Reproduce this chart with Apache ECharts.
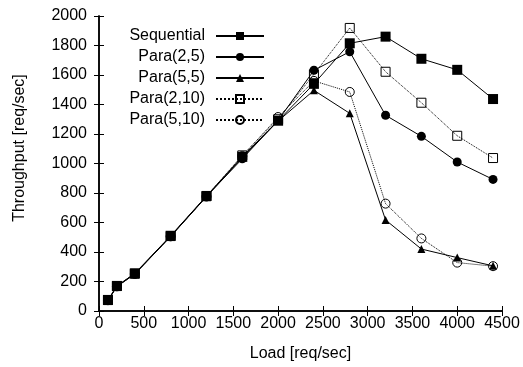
<!DOCTYPE html>
<html>
<head>
<meta charset="utf-8">
<script src="https://cdn.jsdelivr.net/npm/echarts@6/dist/echarts.min.js"></script>
<style>
  html, body { margin: 0; padding: 0; background: #fff; }
  #chart { width: 523px; height: 367px; }
</style>
</head>
<body>
<div id="chart"></div>
<script>
const loads = [100, 200, 400, 800, 1200, 1600, 2000, 2400, 2800, 3200, 3600, 4000, 4400];

const sequential = [75, 170, 255, 510, 780, 1045, 1290, 1540, 1815, 1860, 1710, 1635, 1437];
const para2_5 = [72, 168, 252, 507, 777, 1032, 1292, 1632, 1758, 1327, 1184, 1010, 892];
const para5_5 = [70, 166, 250, 505, 775, 1040, 1288, 1496, 1340, 617, 420, 362, 306];
const para2_10 = [74, 169, 253, 508, 778, 1055, 1300, 1605, 1919, 1622, 1412, 1188, 1037];
const para5_10 = [73, 167, 251, 506, 776, 1050, 1315, 1560, 1485, 728, 492, 328, 304];

const seriesNames = ['Sequential', 'Para(2,5)', 'Para(5,5)', 'Para(2,10)', 'Para(5,10)'];

const font = 'Liberation Sans, Arial, sans-serif';

function pairs(values) {
  return loads.map((x, i) => [x, values[i]]);
}

function makeSeries(name, values, symbol, dotted, filled, size) {
  return {
    name,
    type: 'line',
    data: pairs(values),
    symbol,
    symbolSize: size,
    showAllSymbol: true,
    lineStyle: { color: '#000', width: 1, type: dotted ? 'dotted' : 'solid' },
    itemStyle: filled
      ? { color: '#000' }
      : { color: 'rgba(255,255,255,0)', borderColor: '#000', borderWidth: 1 },
    emphasis: { disabled: true },
  };
}

const chart = echarts.init(document.getElementById('chart'));

const axisLine = { show: true, lineStyle: { color: '#000', width: 1.5 } };
const axisTick = { show: true, inside: true, length: 5, lineStyle: { color: '#000', width: 1 } };
const plainNumber = v => String(v);

chart.setOption({
  animation: false,
  backgroundColor: '#fff',
  textStyle: { fontFamily: font },
  grid: { left: 99, right: 21, top: 16, bottom: 56, containLabel: false },
  legend: {
    orient: 'vertical',
    align: 'right',
    right: 253,
    top: 23,
    itemWidth: 48,
    itemHeight: 10,
    itemGap: 5,
    formatter: name => '{t|' + name + '}',
    textStyle: {
      fontFamily: font, fontSize: 16, color: '#000',
      rich: { t: { width: 84, align: 'right', fontSize: 16, fontFamily: font, color: '#000', padding: [0, 6, 0, 0] } },
    },
    data: seriesNames,
  },
  xAxis: [
    {
      type: 'value', min: 0, max: 4500, interval: 500,
      axisLine, axisTick, splitLine: { show: false },
      axisLabel: { color: '#000', fontSize: 16, fontFamily: font, margin: 5, formatter: plainNumber },
      name: 'Load [req/sec]', nameLocation: 'middle', nameGap: 35,
      nameTextStyle: { color: '#000', fontSize: 16, fontFamily: font },
    },
    {
      type: 'value', min: 0, max: 4500, interval: 500, position: 'top',
      axisLine, axisTick, splitLine: { show: false }, axisLabel: { show: false },
    },
  ],
  yAxis: [
    {
      type: 'value', min: 0, max: 2000, interval: 200,
      axisLine, axisTick, splitLine: { show: false },
      axisLabel: { color: '#000', fontSize: 16, fontFamily: font, margin: 12, formatter: plainNumber },
    },
    {
      type: 'value', min: 0, max: 2000, interval: 200, position: 'right',
      axisLine, axisTick, splitLine: { show: false }, axisLabel: { show: false },
    },
  ],
  graphic: [
    {
      type: 'text',
      x: 20, y: 148, rotation: Math.PI / 2,
      style: {
        text: 'Throughput [req/sec]', fill: '#000', font: '16px ' + font,
        textAlign: 'center', textVerticalAlign: 'middle',
      },
    },
  ],
  series: [
    makeSeries(seriesNames[0], sequential, 'rect', false, true, 10),
    makeSeries(seriesNames[1], para2_5, 'circle', false, true, 9),
    makeSeries(seriesNames[2], para5_5, 'triangle', false, true, 8),
    makeSeries(seriesNames[3], para2_10, 'rect', true, false, 9),
    makeSeries(seriesNames[4], para5_10, 'circle', true, false, 9),
  ],
});
</script>
</body>
</html>
